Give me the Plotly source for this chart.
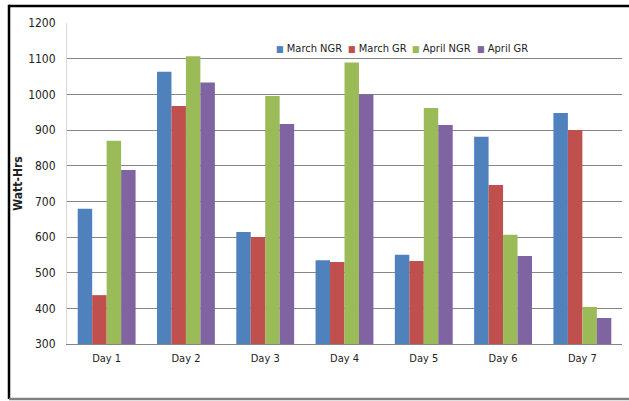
import plotly.graph_objects as go

days = ["Day 1", "Day 2", "Day 3", "Day 4", "Day 5", "Day 6", "Day 7"]
march_ngr = [679, 1063, 614, 535, 550, 881, 948]
march_gr = [437, 967, 600, 530, 533, 746, 900]
april_ngr = [870, 1107, 995, 1089, 962, 606, 404]
april_gr = [788, 1033, 917, 1000, 914, 547, 373]
y_ticks = [300, 400, 500, 600, 700, 800, 900, 1000, 1100, 1200]

names = ["March NGR", "March GR", "April NGR", "April GR"]
colors = ["#4F81BD", "#C0504D", "#9BBB59", "#8064A2"]
values = [march_ngr, march_gr, april_ngr, april_gr]

font_family = "DejaVu Sans Condensed, Liberation Sans Narrow, Liberation Sans"

fig = go.Figure()
for name, vals, col in zip(names, values, colors):
    fig.add_trace(go.Bar(
        x=days, y=[v - 300 for v in vals], base=300, name=name,
        marker=dict(color=col, line=dict(width=0)),
        showlegend=False,
    ))

# compact legend as text annotations
legend_x = [0.373, 0.503, 0.618, 0.735]
annotations = []
for name, col, lx in zip(names, colors, legend_x):
    annotations.append(dict(
        xref="paper", yref="paper", x=lx, y=0.922, xanchor="left", yanchor="middle",
        showarrow=False,
        text='<span style="color:%s;font-size:9px">■</span> %s' % (col, name),
        font=dict(size=11, family=font_family, color="#222222"),
    ))

frame = [
    dict(type="line", xref="paper", yref="paper", x0=-0.1045, x1=1.02, y0=1.053, y1=1.053,
         line=dict(color="black", width=2.5), layer="above"),
    dict(type="line", xref="paper", yref="paper", x0=-0.1045, x1=-0.1045, y0=-0.1713, y1=1.057,
         line=dict(color="black", width=2.5), layer="above"),
    dict(type="line", xref="paper", yref="paper", x0=-0.1045, x1=1.02, y0=-0.1713, y1=-0.1713,
         line=dict(color="#808080", width=2.5), layer="above"),
]

fig.update_layout(
    width=629, height=401,
    margin=dict(l=67, r=7, t=23, b=57, autoexpand=False),
    paper_bgcolor="white", plot_bgcolor="white",
    barmode="group", bargap=0.27, bargroupgap=0,
    font=dict(family=font_family, size=11, color="#222222"),
    showlegend=False,
    annotations=annotations,
    xaxis=dict(showgrid=False, showline=True, linecolor="#868686", linewidth=1,
               ticks="", tickfont=dict(size=11), automargin=False,
               ticklabelstandoff=4),
    yaxis=dict(range=[300, 1200], tickvals=y_ticks, showgrid=True,
               gridcolor="#868686", gridwidth=1, showline=True,
               linecolor="#D9D9D9", linewidth=1, ticks="", automargin=False,
               tickfont=dict(size=12), zeroline=False, ticklabelstandoff=8,
               title=dict(text="<b>Watt-Hrs</b>", font=dict(size=12), standoff=2)),
    shapes=frame,
)

fig.write_html("out.html", config={"displayModeBar": False},
               post_script="document.body.style.margin='0';document.body.style.overflow='hidden';")
